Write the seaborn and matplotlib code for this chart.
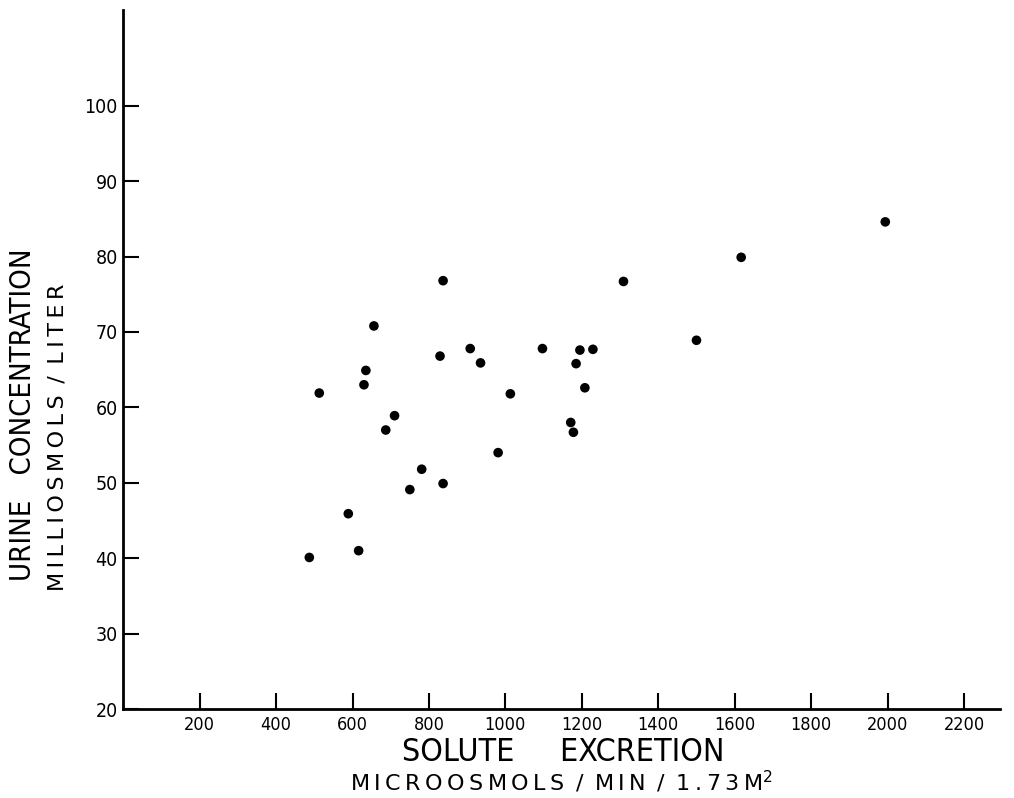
import matplotlib
matplotlib.use("Agg")
import matplotlib.pyplot as plt
import seaborn as sns
import pandas as pd

# solute excretion (microosmols/min/1.73 m2) vs urine concentration (mOsm/L)
solute_excretion = [
    487, 513, 589, 616, 630, 635, 656, 687, 710, 750,
    781, 829, 837, 837, 908, 935, 981, 1013, 1097, 1171,
    1178, 1185, 1195, 1208, 1229, 1309, 1500, 1617, 1994,
]
urine_conc = [
    40.1, 61.9, 45.9, 41.0, 63.0, 64.9, 70.8, 57.0, 58.9, 49.1,
    51.8, 66.8, 76.8, 49.9, 67.8, 65.9, 54.0, 61.8, 67.8, 58.0,
    56.7, 65.8, 67.6, 62.6, 67.7, 76.7, 68.9, 79.9, 84.6,
]
x_ticks = [200, 400, 600, 800, 1000, 1200, 1400, 1600, 1800, 2000, 2200]
y_ticks = [20, 30, 40, 50, 60, 70, 80, 90, 100]


def spaced(text):
    # widen letter spacing to mimic the lettering-guide style of the original
    return "\u2009".join(text)


df = pd.DataFrame({"solute": solute_excretion, "conc": urine_conc})

sns.set_style("white")
plt.rcParams["font.family"] = ["DejaVu Sans"]
plt.rcParams["text.color"] = "black"

fig = plt.figure(figsize=(10.14, 7.98), dpi=100)
ax = fig.add_axes([0.1215, 0.1115, 0.865, 0.876])

sns.scatterplot(data=df, x="solute", y="conc", ax=ax, color="black",
                s=48, edgecolor="none", legend=False)

ax.set_xlim(0, 2295)
ax.set_ylim(20, 112.7)
ax.set_xticks(x_ticks)
ax.set_yticks(y_ticks)
ax.set_xticklabels([str(t) for t in x_ticks], fontsize=13, stretch="condensed")
ax.set_yticklabels([str(t) for t in y_ticks], fontsize=14, stretch="condensed")
ax.tick_params(axis="both", direction="in", length=11.5, width=1.5,
               color="black", labelcolor="black", bottom=True, left=True)
ax.tick_params(axis="x", pad=5)
ax.tick_params(axis="y", pad=4)

for side in ["top", "right"]:
    ax.spines[side].set_visible(False)
for side in ["left", "bottom"]:
    ax.spines[side].set_color("black")
    ax.spines[side].set_linewidth(2)

ax.set_xlabel("")
ax.set_ylabel("")

fig.text(0.023, 0.48, "URINE   CONCENTRATION", rotation=90, fontsize=21,
         ha="center", va="center", stretch="condensed")
fig.text(0.057, 0.452, spaced("MILLIOSMOLS/LITER").replace("/", " / "),
         rotation=90, fontsize=16, ha="center", va="center")
fig.text(0.555, 0.0576, "SOLUTE     EXCRETION", fontsize=23,
         ha="center", va="center", stretch="condensed")
fig.text(0.554, 0.020,
         spaced("MICROOSMOLS/MIN/1.73").replace("/", " / ") + "\u2009M$^2$",
         fontsize=16, ha="center", va="center")

fig.savefig("out.png", dpi=100)
